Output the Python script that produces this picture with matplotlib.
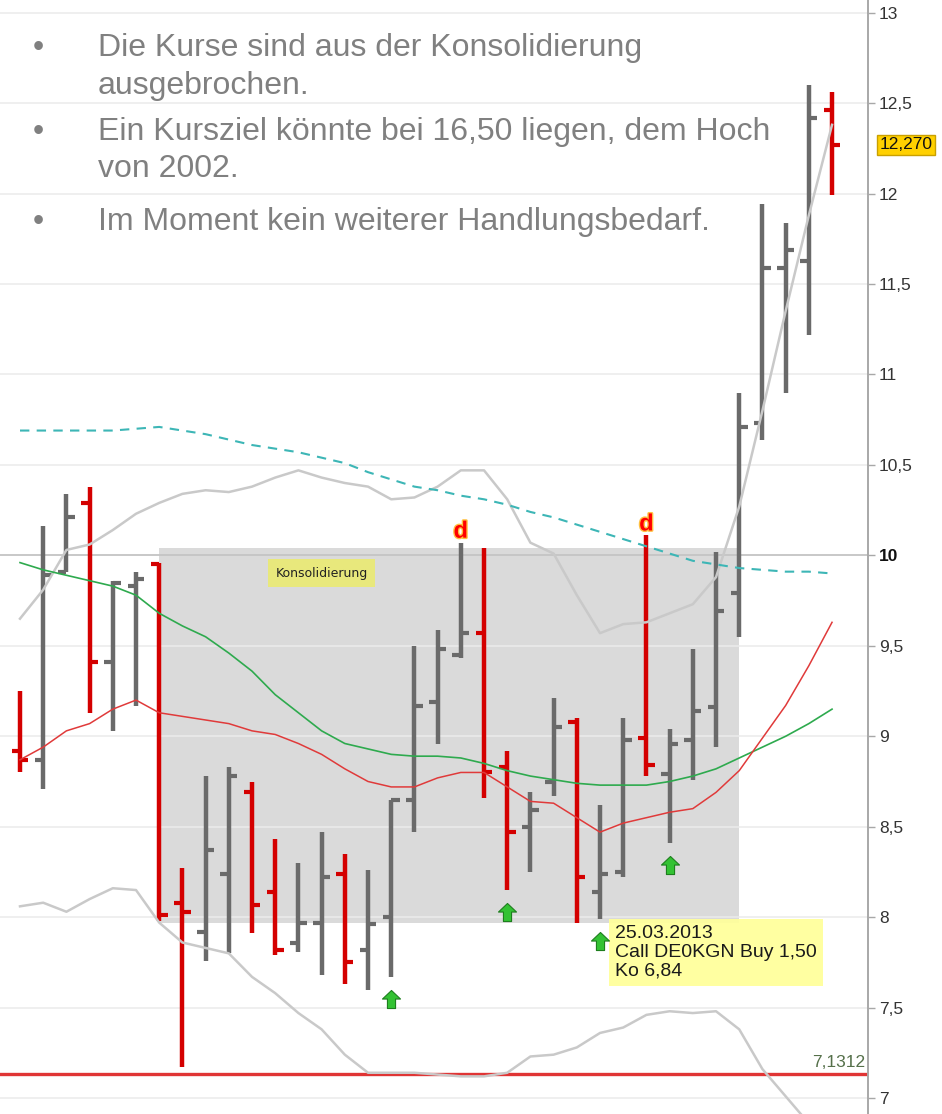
import numpy as np
import matplotlib
matplotlib.use("Agg")
import matplotlib.pyplot as plt
from matplotlib.path import Path
from matplotlib.patches import Rectangle
import matplotlib.patheffects as pe
from matplotlib import transforms

# ---------------- data ----------------
opens = [8.92, 8.87, 9.91, 10.29, 9.41, 9.83, 9.95, 8.08, 7.92, 8.24, 8.69, 8.14,
         7.86, 7.97, 8.24, 7.82, 8.00, 8.65, 9.19, 9.45, 9.57, 8.83, 8.50, 8.75,
         9.08, 8.14, 8.25, 8.99, 8.79, 8.98, 9.16, 9.79, 10.73, 11.59, 11.63, 12.46]
highs = [9.25, 10.16, 10.34, 10.38, 9.86, 9.91, 9.96, 8.27, 8.78, 8.83, 8.75, 8.43,
         8.30, 8.47, 8.35, 8.26, 8.65, 9.50, 9.59, 10.07, 10.04, 8.92, 8.69, 9.21,
         9.10, 8.62, 9.10, 10.11, 9.04, 9.48, 10.02, 10.90, 11.94, 11.84, 12.60, 12.56]
lows = [8.80, 8.71, 9.91, 9.13, 9.03, 9.17, 7.98, 7.17, 7.76, 7.80, 7.91, 7.79,
        7.81, 7.68, 7.63, 7.60, 7.67, 8.47, 8.96, 9.43, 8.66, 8.15, 8.25, 8.67,
        7.97, 7.99, 8.22, 8.78, 8.41, 8.76, 8.94, 9.55, 10.64, 10.90, 11.22, 11.99]
closes = [8.87, 9.89, 10.21, 9.41, 9.85, 9.87, 8.01, 8.03, 8.37, 8.78, 8.07, 7.82,
          7.97, 8.22, 7.75, 7.96, 8.65, 9.17, 9.48, 9.57, 8.80, 8.47, 8.59, 9.05,
          8.22, 8.24, 8.98, 8.84, 8.96, 9.14, 9.69, 10.71, 11.59, 11.69, 12.42, 12.27]

sma_green = [9.96, 9.92, 9.89, 9.86, 9.83, 9.78, 9.68, 9.61, 9.55, 9.46, 9.36, 9.23,
             9.13, 9.03, 8.96, 8.93, 8.90, 8.89, 8.89, 8.88, 8.85, 8.81, 8.78, 8.76,
             8.74, 8.73, 8.73, 8.73, 8.75, 8.78, 8.82, 8.88, 8.94, 9.00, 9.07, 9.15]
sma_red = [8.87, 8.94, 9.03, 9.07, 9.15, 9.20, 9.13, 9.11, 9.09, 9.07, 9.03, 9.01,
           8.96, 8.90, 8.82, 8.75, 8.72, 8.72, 8.77, 8.80, 8.80, 8.72, 8.64, 8.63,
           8.55, 8.47, 8.52, 8.55, 8.58, 8.60, 8.69, 8.81, 8.99, 9.17, 9.39, 9.63]
sma_long = [10.69, 10.69, 10.69, 10.69, 10.69, 10.70, 10.71, 10.69, 10.67, 10.64, 10.61, 10.59,
            10.57, 10.54, 10.51, 10.46, 10.42, 10.38, 10.36, 10.33, 10.31, 10.28, 10.24, 10.21,
            10.17, 10.13, 10.09, 10.05, 10.01, 9.97, 9.95, 9.93, 9.92, 9.91, 9.91, 9.90]
band_upper = [9.65, 9.81, 10.03, 10.06, 10.14, 10.23, 10.29, 10.34, 10.36, 10.35, 10.38, 10.43,
              10.47, 10.43, 10.40, 10.38, 10.31, 10.32, 10.38, 10.47, 10.47, 10.31, 10.07, 10.01,
              9.78, 9.57, 9.62, 9.63, 9.68, 9.73, 9.88, 10.27, 10.80, 11.35, 11.88, 12.38]
band_lower = [8.06, 8.08, 8.03, 8.10, 8.16, 8.15, 7.97, 7.86, 7.83, 7.80, 7.67, 7.58,
              7.47, 7.38, 7.24, 7.14, 7.14, 7.14, 7.13, 7.12, 7.12, 7.14, 7.23, 7.24,
              7.28, 7.36, 7.39, 7.46, 7.48, 7.47, 7.48, 7.38, 7.16, 7.01, 6.86, 6.71]

support_level = 7.1312
last_price = 12.270
consolidation = (6, 31, 7.97, 10.04)      # first bar, last bar, low, high
signal_bars = [16, 21, 25, 28]            # green buy arrows
d_bars = [19, 27]                          # 'd' marks
ytick_vals = [7, 7.5, 8, 8.5, 9, 9.5, 10, 10.5, 11, 11.5, 12, 12.5, 13]
ytick_labels = ["7", "7,5", "8", "8,5", "9", "9,5", "10", "10,5", "11", "11,5", "12", "12,5", "13"]

bullets = [
    ["Die Kurse sind aus der Konsolidierung", "ausgebrochen."],
    ["Ein Kursziel könnte bei 16,50 liegen, dem Hoch", "von 2002."],
    ["Im Moment kein weiterer Handlungsbedarf."],
]
note_text = "25.03.2013\nCall DE0KGN Buy 1,50\nKo 6,84"

# ---------------- figure ----------------
W, H = 942, 1114
fig = plt.figure(figsize=(W / 100, H / 100), dpi=100)
fig.patch.set_facecolor("white")
ax = fig.add_axes([0, 0, 868 / W, 1])
ax.set_xlim(-0.862, 36.55)
ax.set_ylim(6.912, 13.070)

x = np.arange(len(opens))
RED = "#D40000"
GRAY = "#6A6A6A"

# grid lines
for v in ytick_vals:
    if v == 10:
        ax.axhline(v, color="#C4C4C4", lw=1.3, zorder=1)
    else:
        ax.axhline(v, color="#EBEBEB", lw=1.1, zorder=1)

# consolidation rectangle
i0, i1, lo, hi = consolidation
ax.add_patch(Rectangle((i0, lo), i1 - i0, hi - lo, facecolor="#DADADA",
                       edgecolor="none", zorder=0.5))
ax.text(13.0, 9.90, "Konsolidierung", fontsize=9, family="DejaVu Sans",
        color="#222222", ha="center", va="center", zorder=6,
        bbox=dict(boxstyle="square,pad=0.6", facecolor="#E8E87C", edgecolor="none"))

# support line
ax.axhline(support_level, color="#E03535", lw=2.4, zorder=2)

# OHLC bars
colors = [RED if c < o else GRAY for o, c in zip(opens, closes)]
tw = 0.36
ax.vlines(x, lows, highs, colors=colors, lw=3.2, zorder=3, capstyle="butt")
ax.hlines(opens, x - tw, x, colors=colors, lw=3.0, zorder=3, capstyle="butt")
ax.hlines(closes, x, x + tw, colors=colors, lw=3.0, zorder=3, capstyle="butt")

# indicator lines
ax.plot(x, band_upper, color="#C9C9C9", lw=1.8, zorder=4)
ax.plot(x, band_lower, color="#C9C9C9", lw=1.8, zorder=4)
ax.plot(x, sma_long, color="#3DB6B6", lw=1.5, dashes=(4.5, 3.5), zorder=4)
ax.plot(x, sma_green, color="#2EAA4E", lw=1.2, zorder=4)
ax.plot(x, sma_red, color="#E03A3A", lw=1.1, zorder=4)

# 'd' markers
for i in d_bars:
    ax.annotate("d", (i, highs[i]), xytext=(0, 0), textcoords="offset points",
                ha="center", va="bottom", fontsize=17, fontweight="bold",
                family="Liberation Sans", color="#FF0000", zorder=7,
                path_effects=[pe.withStroke(linewidth=2, foreground="#FFC040")])

# note box
ax.text(25.65, 7.955, note_text, fontsize=14, family="Liberation Sans",
        color="#1A1A1A", ha="left", va="top", linespacing=1.12, zorder=8,
        bbox=dict(boxstyle="square,pad=0.33", facecolor="#FFFF9C", edgecolor="none",
                  alpha=0.95))

# green arrows
arrow = Path([(0, 1), (1, 0.05), (0.45, 0.05), (0.45, -1), (-0.45, -1), (-0.45, 0.05),
              (-1, 0.05), (0, 1)],
             [Path.MOVETO] + [Path.LINETO] * 6 + [Path.CLOSEPOLY])
off = transforms.offset_copy(ax.transData, fig=fig, x=0, y=-16, units="points")
ax.plot([signal_bars], [[lows[i] for i in signal_bars]], linestyle="none",
        marker=arrow, markersize=13, markerfacecolor="#33C233",
        markeredgecolor="#1E7E1E", markeredgewidth=0.8, transform=off, zorder=9)

# axes styling
for s in ["left", "top", "bottom"]:
    ax.spines[s].set_visible(False)
ax.spines["right"].set_color("#A8A8A8")
ax.spines["right"].set_linewidth(1.4)
ax.set_xticks([])
ax.yaxis.tick_right()
ax.set_yticks(ytick_vals)
ax.set_yticklabels(ytick_labels)
ax.tick_params(axis="y", direction="out", length=5, width=1, color="#A8A8A8",
               pad=3, labelsize=12.5, labelcolor="#333333")
for lab in ax.get_yticklabels():
    lab.set_family("Liberation Sans")
    if lab.get_text() == "10":
        lab.set_fontweight("bold")
        lab.set_color("#111111")

ytr = ax.get_yaxis_transform()
ax.text(1.013, last_price, "12,270", transform=ytr, fontsize=12.5, family="Liberation Sans",
        color="#111111", ha="left", va="center", clip_on=False, zorder=9,
        bbox=dict(boxstyle="square,pad=0.15", facecolor="#FFD000", edgecolor="#C9A000"))
ax.text(0.997, support_level + 0.025, "7,1312", transform=ytr, fontsize=12.5,
        family="Liberation Sans", color="#55704A", ha="right", va="bottom", zorder=9)

# bullet text
ys = [[56, 94], [140, 177], [230]]
for para, yl in zip(bullets, ys):
    fig.text(33 / W, 1 - yl[0] / H, "•", fontsize=23, family="Liberation Sans",
             color="#808080", ha="left", va="baseline")
    for line, yy in zip(para, yl):
        fig.text(98 / W, 1 - yy / H, line, fontsize=23, family="Liberation Sans",
                 color="#808080", ha="left", va="baseline")

fig.savefig("out.png", dpi=100)
